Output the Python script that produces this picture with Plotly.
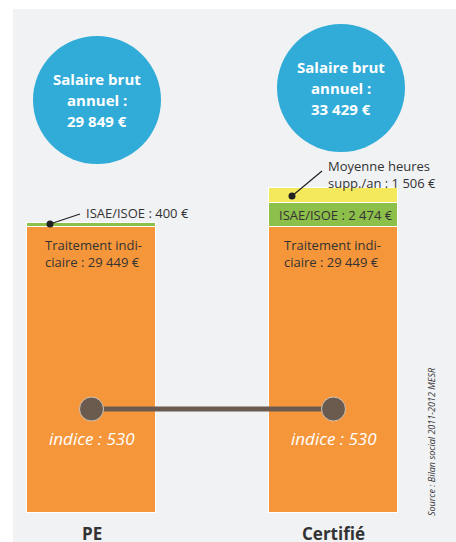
import plotly.graph_objects as go

categories = ["PE", "Certifié"]
traitement = [29449, 29449]
isae = [400, 2474]
heures_supp = [None, 1506]
salaire_brut = [29849, 33429]
indice = [530, 530]

# colours
C_PANEL = "#f1f2f4"
C_ORANGE = "#f6963a"
C_GREEN = "#8dbf4b"
C_YELLOW = "#f4e95c"
C_BLUE = "#31acd8"
C_DOT = "#6b5b4f"
C_TEXT = "#333333"
FONT = "Open Sans"

W, H = 456, 542
ML, MT = 13, 9
X0PX, DXPX = 91.5, 242.0       # pixel of category 0, pixels per category
Y0PX, EUR_PER_PX = 513.0, 102.97


def xd(px):
    return (px - X0PX) / DXPX


def yd(py):
    return (Y0PX - py) * EUR_PER_PX


def fmt(v):
    return f"{v:,}".replace(",", " ")


xpos = list(range(len(categories)))
x_range = [xd(ML), xd(W)]
y_range = [yd(H), yd(MT)]
bar_w = 129 / DXPX

fig = go.Figure()
bar_line = dict(color="white", width=1)
for vals, col in [(traitement, C_ORANGE), (isae, C_GREEN), (heures_supp, C_YELLOW)]:
    fig.add_trace(go.Bar(x=xpos, y=vals, width=bar_w, marker=dict(color=col, line=bar_line),
                         hoverinfo="skip"))

# indice line
idx_level = yd(409)
fig.add_trace(go.Scatter(x=xpos, y=[idx_level] * len(xpos), mode="lines+markers",
                         line=dict(color=C_DOT, width=5),
                         marker=dict(size=24, color=C_DOT, line=dict(color="#cfc4b8", width=1)),
                         hoverinfo="skip"))

ann = []
shapes = []

# leader lines + dots
leaders = [((50, 224), (80, 214)), ((292, 196), (322, 171))]
for (p1, p2) in leaders:
    shapes.append(dict(type="line", xref="x", yref="y", x0=xd(p1[0]), y0=yd(p1[1]), x1=xd(p2[0]), y1=yd(p2[1]),
                       line=dict(color="#222222", width=1.2)))
fig.add_trace(go.Scatter(x=[xd(p[0][0]) for p in leaders], y=[yd(p[0][1]) for p in leaders], mode="markers",
                         marker=dict(size=7, color="#222222"), hoverinfo="skip"))

# bubbles
bubbles = [(97, 100, 64), (341, 88, 64)]
for i, (cx, cy, r) in enumerate(bubbles):
    shapes.append(dict(type="circle", xref="x", yref="y", xsizemode="pixel", ysizemode="pixel",
                       xanchor=xd(cx), yanchor=yd(cy), x0=-r, x1=r, y0=-r, y1=r,
                       fillcolor=C_BLUE, line=dict(width=0), layer="below"))
    lines = ["Salaire brut", "annuel :", f"{fmt(salaire_brut[i])} €"]
    base = cy - 21
    for k, t in enumerate(lines):
        ann.append(dict(x=xd(cx), y=yd(base + k * 21), text=f"<b>{t}</b>", showarrow=False,
                        font=dict(family=FONT, size=15, color="white"), xanchor="center", yanchor="middle"))

# bar texts
for i, left in enumerate([43, 282]):
    ann.append(dict(x=xd(left), y=yd(234), text=f"Traitement indi-<br>ciaire : {fmt(traitement[i])} €",
                    showarrow=False, align="left", xanchor="left", yanchor="top",
                    font=dict(family=FONT, size=13, color=C_TEXT)))

ann.append(dict(x=xd(84), y=yd(213), text=f"ISAE/ISOE : {fmt(isae[0])} €", showarrow=False,
                xanchor="left", yanchor="middle", font=dict(family=FONT, size=13, color=C_TEXT)))
ann.append(dict(x=xd(277), y=yd(215), text=f"ISAE/ISOE : {fmt(isae[1])} €", showarrow=False,
                xanchor="left", yanchor="middle", font=dict(family=FONT, size=13, color=C_TEXT)))
ann.append(dict(x=xd(326), y=yd(174), text=f"Moyenne heures<br>supp./an : {fmt(heures_supp[1])} €",
                showarrow=False, align="left", xanchor="left", yanchor="middle",
                font=dict(family=FONT, size=13, color=C_TEXT)))

for i in xpos:
    ann.append(dict(x=i, y=yd(438), text=f"<i>indice : {indice[i]}</i>", showarrow=False,
                    xanchor="center", yanchor="middle", font=dict(family=FONT, size=17, color="white")))
    ann.append(dict(x=i, y=yd(533), text=f"<b>{categories[i]}</b>", showarrow=False,
                    xanchor="center", yanchor="middle", font=dict(family=FONT, size=17, color=C_TEXT)))

ann.append(dict(x=xd(431), y=yd(442), text="<i>Source : Bilan social 2011-2012 MESR</i>", showarrow=False,
                textangle=-90, xanchor="center", yanchor="middle",
                font=dict(family=FONT, size=9, color=C_TEXT)))

fig.update_layout(
    width=W, height=H, barmode="stack", bargap=0, showlegend=False,
    paper_bgcolor="white", plot_bgcolor=C_PANEL,
    margin=dict(l=ML, r=0, t=MT, b=0, pad=0),
    xaxis=dict(type="linear", range=x_range, showticklabels=False, showgrid=False, zeroline=False,
               fixedrange=True),
    yaxis=dict(range=y_range, showticklabels=False, showgrid=False, zeroline=False, fixedrange=True),
    annotations=ann, shapes=shapes,
)

fig.write_html("out.html", config={"displayModeBar": False},
               post_script="document.body.style.margin='0px';document.body.style.overflow='hidden';")
